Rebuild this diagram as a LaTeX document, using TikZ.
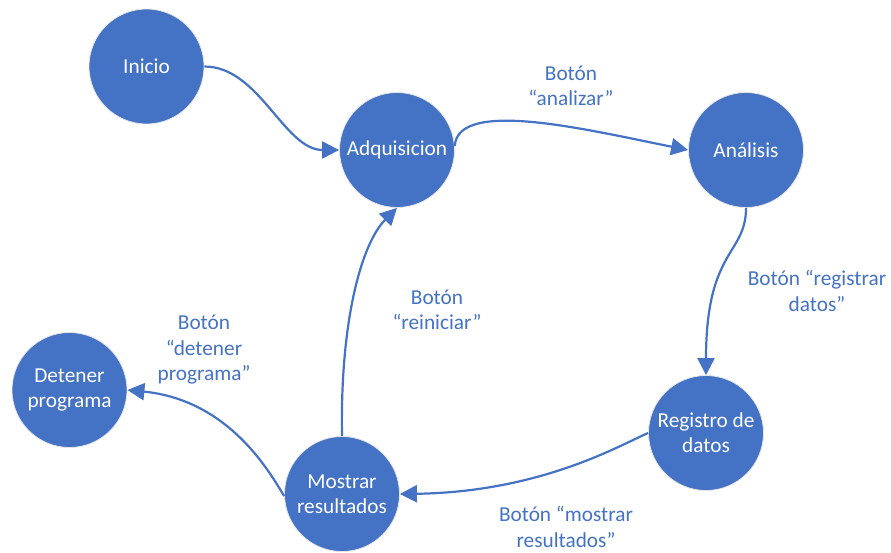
\documentclass[tikz,border=0pt]{standalone}
\usepackage{fontspec}
\setmainfont{Carlito}
\usetikzlibrary{arrows.meta}
\definecolor{officeblue}{HTML}{4472C4}
\tikzset{
  state/.style={circle, fill=officeblue, draw=white!80!gray, line width=0.8pt,
    minimum size=115pt, inner sep=0pt, text=white, align=center,
    font=\fontsize{21.3}{25}\selectfont},
  flow/.style={draw=officeblue, line width=2.2pt,
    -{Triangle[length=17pt,width=17pt]}},
  lbl/.style={text=officeblue, align=center, inner sep=0pt,
    font=\fontsize{21.3}{25.5}\selectfont}
}
\begin{document}
\begin{tikzpicture}[x=1pt,y=-1pt]
\useasboundingbox (0,0) rectangle (891,552);

% states
\node[state] (ini) at (146.5,66.5) {Inicio};
\node[state] (adq) at (397,150) {Adquisicion};
\node[state] (ana) at (746,150) {Análisis};
\node[state] (reg) at (706,433) {Registro de\\datos};
\node[state] (mos) at (342,494) {Mostrar\\resultados};
\node[state] (det) at (69.5,390) {Detener\\programa};

% transitions
\draw[flow] (ini.east) .. controls +(55,0) and +(-55,0) .. (adq.west);
\draw[flow] (adq.4) .. controls +(3,-48) and +(-100,-20) .. (ana.west);
\draw[flow] (ana.south) .. controls +(0,47) and +(0,-126) .. (reg.north);
\draw[flow] (reg.west) .. controls +(-28,12) and +(141,-2) .. (mos.east);
\draw[flow] (mos.north) .. controls +(-2,-117) and +(-35,35) .. (adq.south);
\draw[flow] (mos.182) .. controls +(-14,-23) and +(102,10) .. (det.east);

% transition labels
\node[lbl] (l1) at (571,86) {Botón\\“analizar”};
\node[lbl] (l2) at (817,291) {Botón “registrar\\datos”};
\node[lbl] (l3) at (566,527) {Botón “mostrar\\resultados”};
\node[lbl] (l4) at (437,310) {Botón\\“reiniciar”};
\node[lbl] (l5) at (204,350) {Botón\\“detener\\programa”};
\end{tikzpicture}
\end{document}
